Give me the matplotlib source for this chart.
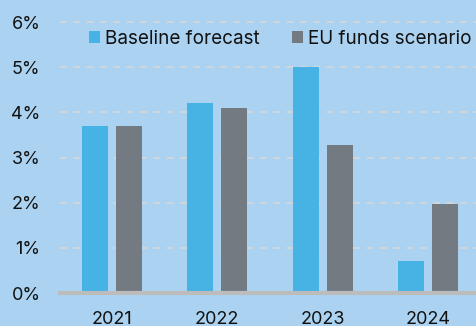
import numpy as np
import matplotlib.pyplot as plt

years = ['2021', '2022', '2023', '2024']
baseline = [3.7, 4.2, 5.0, 0.7]
eu_funds = [3.7, 4.1, 3.27, 1.98]
yticks = [0, 1, 2, 3, 4, 5, 6]

bg = '#abd3f1'
blue = '#47b2e4'
grey = '#737a82'

plt.rcParams['font.family'] = ['Inter', 'DejaVu Sans']

fig = plt.figure(figsize=(4.77, 3.26), dpi=100, facecolor=bg)
ax = fig.add_axes([60 / 477, 33 / 326, 417 / 477, 293 / 326])
ax.set_facecolor(bg)

x = np.arange(len(years))
w = 0.246
off = 0.161
ax.bar(x - off, baseline, w, color=blue, label='Baseline forecast', zorder=3)
ax.bar(x + off, eu_funds, w, color=grey, label='EU funds scenario', zorder=3)

ax.set_xlim(-0.49, 3.46)
ax.set_ylim(0, 6.49)
ax.set_yticks(yticks)
ax.set_yticklabels([f'{v}%' for v in yticks])
ax.set_xticks(x)
ax.set_xticklabels(years)
ax.tick_params(axis='y', length=0, pad=14, labelsize=13, colors='#111111')
ax.tick_params(axis='x', length=0, pad=13, labelsize=13, colors='#111111')

ax.grid(axis='y', color='#d8d8d8', linestyle=(0, (4, 4)), linewidth=1.2, zorder=1)
for s in ['top', 'right', 'left']:
    ax.spines[s].set_visible(False)
ax.spines['bottom'].set_color('#bcbcbc')
ax.spines['bottom'].set_linewidth(3)
ax.spines['bottom'].set_zorder(4)

leg = ax.legend(loc='upper left', bbox_to_anchor=(0.0695, 0.899), ncol=2, frameon=False,
                fontsize=13.6, handlelength=0.58, handleheight=0.58, handletextpad=0.25,
                columnspacing=1.75, borderaxespad=0, borderpad=0)
for t in leg.get_texts():
    t.set_color('#111111')

fig.savefig('out.png', dpi=100, facecolor=bg)
